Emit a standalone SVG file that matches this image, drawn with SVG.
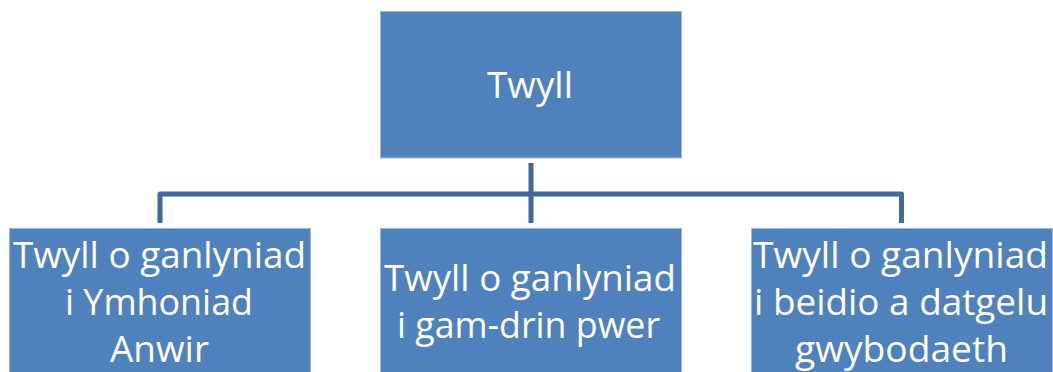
<svg xmlns="http://www.w3.org/2000/svg" width="1053" height="372" viewBox="0 0 1053 372">
<style>
.box{fill:#4F81BD;stroke:#9DB6D6;stroke-width:1}
.lbl{font-family:"Open Sans","DejaVu Sans",sans-serif;font-size:37px;fill:#FFFFFF;text-anchor:middle}
.conn{fill:none;stroke:#41699B;stroke-width:5;stroke-linejoin:round}
</style>
<rect width="1053" height="372" fill="#FFFFFF"/>
<g id="connectors">
<path class="conn" d="M531,163 V194 M160,223 V194 H901.5 V223 M531,194 V223"/>
</g>
<g id="node-top">
<rect class="box" x="380.5" y="11.5" width="301" height="146.5"/>
<text class="lbl" x="530" y="98" textLength="86" lengthAdjust="spacingAndGlyphs">Twyll</text>
</g>
<g id="node-left">
<rect class="box" x="9.5" y="228.5" width="301" height="150"/>
<text class="lbl" x="159.5" y="268" textLength="293" lengthAdjust="spacingAndGlyphs">Twyll o ganlyniad</text>
<text class="lbl" x="159" y="315" textLength="188" lengthAdjust="spacingAndGlyphs">i Ymhoniad</text>
<text class="lbl" x="159.5" y="362" textLength="99" lengthAdjust="spacingAndGlyphs">Anwir</text>
</g>
<g id="node-middle">
<rect class="box" x="380.5" y="228.5" width="301" height="150"/>
<text class="lbl" x="530" y="291" textLength="292" lengthAdjust="spacingAndGlyphs">Twyll o ganlyniad</text>
<text class="lbl" x="528.5" y="338" textLength="263" lengthAdjust="spacingAndGlyphs">i gam-drin pwer</text>
</g>
<g id="node-right">
<rect class="box" x="751.5" y="228.5" width="301" height="150"/>
<text class="lbl" x="900.5" y="268" textLength="295" lengthAdjust="spacingAndGlyphs">Twyll o ganlyniad</text>
<text class="lbl" x="901" y="315" textLength="294" lengthAdjust="spacingAndGlyphs">i beidio a datgelu</text>
<text class="lbl" x="901.5" y="362" textLength="213" lengthAdjust="spacingAndGlyphs">gwybodaeth</text>
</g>
</svg>
